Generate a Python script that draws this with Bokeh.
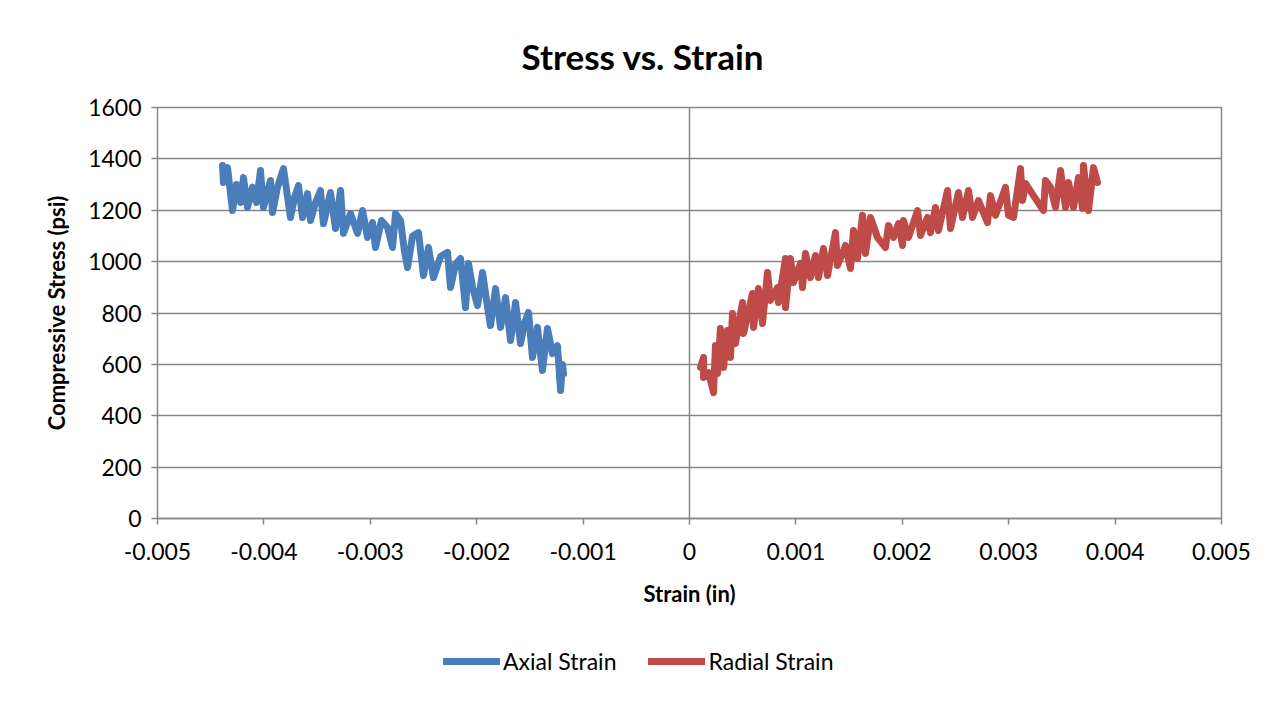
from bokeh.plotting import figure
from bokeh.layouts import column
from bokeh.models import (Legend, LegendItem, FixedTicker, Span, Title, Range1d)
from bokeh.embed import file_html
from bokeh.resources import INLINE

# ---- data ----
axial_strain = [-0.004389, -0.004380, -0.004342, -0.004295, -0.004258, -0.004220, -0.004192,
                -0.004154, -0.004107, -0.004070, -0.004032, -0.004004, -0.003938, -0.003919,
                -0.003872, -0.003816, -0.003750, -0.003712, -0.003675, -0.003637, -0.003590,
                -0.003562, -0.003515, -0.003468, -0.003440, -0.003374, -0.003327, -0.003280,
                -0.003252, -0.003186, -0.003120, -0.003073, -0.003026, -0.002979, -0.002951,
                -0.002895, -0.002838, -0.002791, -0.002763, -0.002716, -0.002679, -0.002650,
                -0.002603, -0.002547, -0.002500, -0.002453, -0.002406, -0.002340, -0.002274,
                -0.002246, -0.002199, -0.002152, -0.002105, -0.002077, -0.002039, -0.001992,
                -0.001945, -0.001908, -0.001870, -0.001823, -0.001776, -0.001729, -0.001682,
                -0.001635, -0.001588, -0.001551, -0.001513, -0.001476, -0.001429, -0.001382,
                -0.001335, -0.001288, -0.001241, -0.001212, -0.001194, -0.001184]
axial_stress = [1374, 1308, 1366, 1199, 1300, 1230, 1327,
                1211, 1290, 1230, 1355, 1211, 1316, 1191,
                1290, 1362, 1172, 1250, 1296, 1172, 1265,
                1160, 1230, 1277, 1148, 1269, 1129, 1277,
                1110, 1187, 1110, 1199, 1094, 1152, 1055,
                1160, 1133, 1055, 1187, 1160, 1040, 977,
                1100, 1113, 946, 1055, 938, 1020, 1036,
                899, 990, 1012, 821, 993, 900, 829,
                958, 850, 751, 895, 744, 860, 693,
                841, 681, 760, 802, 627, 744, 576,
                740, 642, 673, 498, 600, 564]

radial_strain = [0.000103, 0.000132, 0.000132, 0.000179, 0.000226, 0.000244, 0.000263, 0.000291,
                 0.000320, 0.000357, 0.000385, 0.000404, 0.000432, 0.000498, 0.000508, 0.000592,
                 0.000602, 0.000648, 0.000686, 0.000733, 0.000761, 0.000827, 0.000836, 0.000902,
                 0.000902, 0.000949, 0.000977, 0.001043, 0.001062, 0.001090, 0.001137, 0.001184,
                 0.001212, 0.001259, 0.001297, 0.001372, 0.001391, 0.001466, 0.001513, 0.001541,
                 0.001579, 0.001626, 0.001654, 0.001701, 0.001767, 0.001842, 0.001870, 0.001917,
                 0.001964, 0.002002, 0.002011, 0.002058, 0.002143, 0.002171, 0.002237, 0.002265,
                 0.002312, 0.002340, 0.002425, 0.002453, 0.002528, 0.002566, 0.002622, 0.002660,
                 0.002716, 0.002801, 0.002829, 0.002876, 0.002970, 0.002998, 0.003045, 0.003111,
                 0.003130, 0.003158, 0.003233, 0.003327, 0.003346, 0.003393, 0.003440, 0.003487,
                 0.003534, 0.003562, 0.003609, 0.003656, 0.003694, 0.003703, 0.003750, 0.003797,
                 0.003835]
radial_stress = [588, 627, 549, 568, 490, 673, 564, 740,
                 588, 732, 627, 798, 681, 841, 720, 876,
                 744, 895, 759, 958, 849, 899, 841, 1012,
                 821, 1012, 919, 993, 899, 1032, 938, 1024,
                 938, 1051, 946, 1113, 985, 1063, 973, 1121,
                 1012, 1180, 1032, 1172, 1094, 1055, 1141, 1094,
                 1148, 1063, 1160, 1094, 1199, 1102, 1172, 1113,
                 1211, 1121, 1277, 1129, 1269, 1172, 1277, 1172,
                 1238, 1152, 1257, 1180, 1289, 1180, 1172, 1362,
                 1238, 1304, 1257, 1199, 1316, 1289, 1211, 1355,
                 1211, 1308, 1211, 1327, 1207, 1374, 1199, 1366,
                 1308]

x_ticks = [-0.005, -0.004, -0.003, -0.002, -0.001, 0.0, 0.001, 0.002, 0.003, 0.004, 0.005]
x_tick_labels = ["-0.005", "-0.004", "-0.003", "-0.002", "-0.001", "0",
                 "0.001", "0.002", "0.003", "0.004", "0.005"]
y_ticks = [0, 200, 400, 600, 800, 1000, 1200, 1400, 1600]

series_names = ["Axial Strain", "Radial Strain"]
title_text = "Stress vs. Strain"
x_label = "Strain (in)"
y_label = "Compressive Stress (psi)"

BLUE = "#4A7EBB"
RED = "#BE4B48"
GRID = "#868686"
FONT = "Lato"
LW = 7

p = figure(frame_width=1064, frame_height=411, output_backend="svg", toolbar_location=None,
           x_range=Range1d(-0.005, 0.005), y_range=Range1d(0, 1600),
           min_border_left=157, min_border_right=53, min_border_top=107, min_border_bottom=120)
p.background_fill_color = "white"
p.border_fill_color = "white"
p.outline_line_color = GRID
p.outline_line_width = 1.5

# grid
p.xgrid.grid_line_color = None
p.ygrid.grid_line_color = GRID
p.ygrid.grid_line_width = 1.5
p.ygrid.ticker = FixedTicker(ticks=y_ticks)

# vertical axis line at x = 0
p.add_layout(Span(location=0, dimension="height", line_color=GRID, line_width=1.5))

# x axis
p.xaxis.ticker = FixedTicker(ticks=x_ticks)
p.xaxis.major_label_overrides = {t: l for t, l in zip(x_ticks, x_tick_labels)}
p.xaxis.axis_line_color = GRID
p.xaxis.axis_line_width = 1.5
p.xaxis.major_tick_line_color = GRID
p.xaxis.major_tick_line_width = 1.5
p.xaxis.major_tick_out = 6
p.xaxis.major_tick_in = 0
p.xaxis.minor_tick_line_color = None
p.xaxis.major_label_text_font = FONT
p.xaxis.major_label_text_font_size = "23px"
p.xaxis.major_label_text_color = "black"
p.xaxis.major_label_standoff = 18
p.xaxis.axis_label = x_label
p.xaxis.axis_label_text_font = FONT
p.xaxis.axis_label_text_font_style = "bold"
p.xaxis.axis_label_text_font_size = "22px"
p.xaxis.axis_label_text_color = "black"
p.xaxis.axis_label_standoff = 17

# y axis
p.yaxis.ticker = FixedTicker(ticks=y_ticks)
p.yaxis.axis_line_color = None
p.yaxis.major_tick_line_color = GRID
p.yaxis.major_tick_line_width = 1.5
p.yaxis.major_tick_out = 6
p.yaxis.major_tick_in = 0
p.yaxis.minor_tick_line_color = None
p.yaxis.major_label_text_font = FONT
p.yaxis.major_label_text_font_size = "23px"
p.yaxis.major_label_text_color = "black"
p.yaxis.major_label_standoff = 10
p.yaxis.axis_label = y_label
p.yaxis.axis_label_text_font = FONT
p.yaxis.axis_label_text_font_style = "bold"
p.yaxis.axis_label_text_font_size = "22px"
p.yaxis.axis_label_text_color = "black"
p.yaxis.axis_label_standoff = 15

p.line(axial_strain, axial_stress, line_color=BLUE, line_width=LW, line_join="round", line_cap="round")
p.line(radial_strain, radial_stress, line_color=RED, line_width=LW, line_join="round", line_cap="round")

# title
title = Title(text=title_text, align="left", offset=364, standoff=62,
              text_font=FONT, text_font_style="bold", text_font_size="35px", text_color="black")
p.add_layout(title, "above")

# legend strip below the chart: same series and line styles; the series fall
# outside this strip's ranges, so only the legend is visible here
lg = figure(width=1274, height=60, output_backend="svg", toolbar_location=None,
            x_range=Range1d(0, 1), y_range=Range1d(0, 1), x_axis_type=None, y_axis_type=None,
            min_border=0, min_border_left=0, min_border_right=0, min_border_top=0, min_border_bottom=0)
lg.outline_line_color = None
lg.background_fill_color = "white"
lg.border_fill_color = "white"
lg.xgrid.grid_line_color = None
lg.ygrid.grid_line_color = None
k1 = lg.line(axial_strain, axial_stress, line_color=BLUE, line_width=LW, line_cap="round")
k2 = lg.line(radial_strain, radial_stress, line_color=RED, line_width=LW, line_cap="round")

legend = Legend(items=[LegendItem(label=series_names[0], renderers=[k1]),
                       LegendItem(label=series_names[1], renderers=[k2])],
                orientation="horizontal", location=(286, 23))
legend.label_text_font = FONT
legend.label_text_font_size = "23px"
legend.label_text_color = "black"
legend.glyph_width = 57
legend.glyph_height = 22
legend.label_height = 22
legend.label_standoff = 3
legend.spacing = 32
legend.padding = 0
legend.margin = 0
legend.border_line_color = None
legend.background_fill_alpha = 0
lg.add_layout(legend, "center")

layout = column(p, lg, spacing=0)
open("out.html", "w").write(file_html(layout, INLINE))
